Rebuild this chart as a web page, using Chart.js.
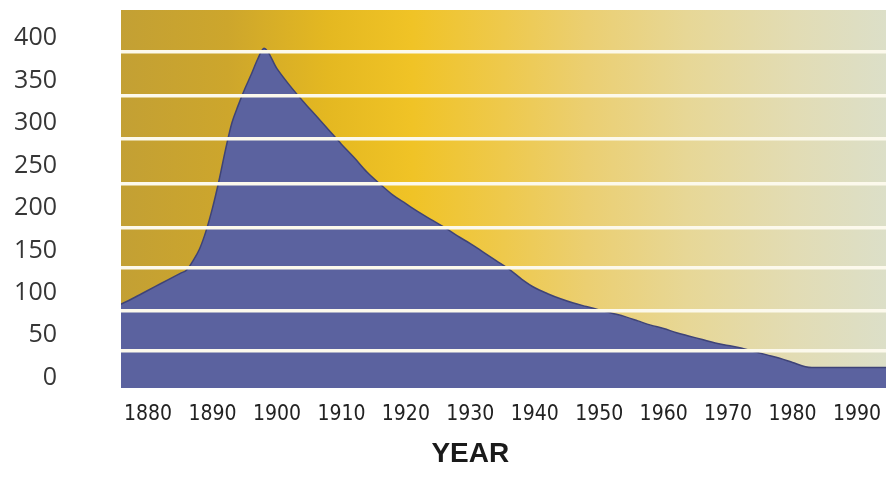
<!DOCTYPE html>
<html>
<head>
<meta charset="utf-8">
<script src="https://cdn.jsdelivr.net/npm/chart.js@4.4.1/dist/chart.umd.min.js"></script>
<style>
  html, body { margin: 0; padding: 0; background: #ffffff; }
  #wrap { width: 886px; height: 485px; }
</style>
</head>
<body>
<div id="wrap"><canvas id="chart" width="886" height="485"></canvas></div>
<script>
// Yearly counts
const YEARS = [
  1875, 1877, 1879, 1881, 1883, 1885, 1886, 1887, 1888, 1889,
  1890, 1891, 1892, 1893, 1894, 1895, 1896, 1897, 1898, 1900,
  1902, 1904, 1906, 1908, 1910, 1912, 1914, 1916, 1918, 1920,
  1922, 1924, 1926, 1928, 1930, 1932, 1934, 1936, 1938, 1940,
  1942, 1944, 1946, 1948, 1950, 1952, 1954, 1956, 1958, 1960,
  1962, 1964, 1966, 1968, 1970, 1972, 1974, 1976, 1978, 1980,
  1982, 1983, 1995
];
const COUNTS = [
  84, 91, 99, 107, 115, 123, 127, 138, 152, 173,
  200, 232, 268, 300, 321, 340, 357, 375, 388, 364,
  344, 326, 309, 292, 275, 259, 242, 228, 215, 205,
  195, 186, 177, 167, 158, 148, 138, 128, 116, 106,
  99, 93, 88, 84, 80, 76, 72, 67, 62, 58,
  53, 49, 45, 41, 38, 35, 31, 27, 23, 18,
  13, 12, 12
];

// Axis labels
const YEAR_TICKS = [1880, 1890, 1900, 1910, 1920, 1930, 1940, 1950, 1960, 1970, 1980, 1990];
const VALUE_TICKS = [0, 50, 100, 150, 200, 250, 300, 350, 400];
const X_TITLE = 'YEAR';

// White separator bands across the plot
const BAND_LINES = [32, 79, 130, 177, 229, 281, 332, 384];

const plotBackground = {
  id: 'plotBackground',
  beforeDraw(chart) {
    const { ctx, chartArea: a } = chart;
    if (!a) return;
    const g = ctx.createLinearGradient(a.left, 0, a.right, 0);
    g.addColorStop(0.00, '#c3a034');
    g.addColorStop(0.14, '#cda62c');
    g.addColorStop(0.27, '#e4b821');
    g.addColorStop(0.38, '#f0c326');
    g.addColorStop(0.50, '#eec94c');
    g.addColorStop(0.61, '#ebcf72');
    g.addColorStop(0.74, '#e7d796');
    g.addColorStop(0.88, '#e2dcb4');
    g.addColorStop(1.00, '#dcdfc8');
    ctx.save();
    ctx.fillStyle = g;
    ctx.fillRect(a.left, a.top, a.right - a.left, a.bottom - a.top);
    ctx.restore();
  }
};

// Axis caption, centred under the 1930 tick
const xCaption = {
  id: 'xCaption',
  afterDraw(chart) {
    const { ctx } = chart;
    const x = chart.scales.x.getPixelForValue(1930);
    ctx.save();
    ctx.font = "bold 28px 'Liberation Sans', Arial, sans-serif";
    ctx.fillStyle = '#1a1a1a';
    ctx.textAlign = 'center';
    ctx.textBaseline = 'middle';
    ctx.fillText(X_TITLE, x, 454);
    ctx.restore();
  }
};

// Fixed axis sizes; drop the edge padding Chart.js reserves for labels
function fixSize(prop, size) {
  return s => {
    s[prop] = size;
    s.paddingTop = 0;
    s.paddingBottom = 0;
    s.paddingLeft = 0;
    s.paddingRight = 0;
  };
}

new Chart(document.getElementById('chart'), {
  type: 'line',
  data: {
    datasets: [{
      data: YEARS.map((yr, i) => ({ x: yr, y: COUNTS[i] })),
      fill: 'start',
      backgroundColor: '#5b629f',
      borderColor: '#3e4377',
      borderWidth: 1.5,
      pointRadius: 0,
      cubicInterpolationMode: 'monotone'
    }]
  },
  options: {
    responsive: false,
    animation: false,
    devicePixelRatio: 1,
    layout: { padding: { top: 10, left: 0, right: 0, bottom: 0 } },
    plugins: { legend: { display: false }, tooltip: { enabled: false } },
    scales: {
      x: {
        type: 'linear',
        min: 1875.8,
        max: 1994.5,
        afterBuildTicks: s => { s.ticks = YEAR_TICKS.map(v => ({ value: v })); },
        afterFit: fixSize('height', 97),
        grid: { display: false, drawTicks: false },
        border: { display: false },
        ticks: {
          padding: 14,
          maxRotation: 0,
          autoSkip: false,
          color: '#222222',
          font: { family: "'DejaVu Sans Condensed', 'DejaVu Sans', sans-serif", size: 21 },
          callback: v => String(v)
        }
      },
      y: {
        type: 'linear',
        position: 'left',
        min: -12,
        max: 433,
        afterBuildTicks: s => { s.ticks = VALUE_TICKS.map(v => ({ value: v })); },
        afterFit: fixSize('width', 121),
        grid: { display: false, drawTicks: false },
        border: { display: false },
        ticks: {
          padding: 64,
          color: '#363636',
          font: { family: "'Open Sans', sans-serif", size: 25 },
          callback: v => String(v)
        }
      },
      bands: {
        type: 'linear',
        position: 'left',
        min: -12,
        max: 433,
        afterBuildTicks: s => { s.ticks = BAND_LINES.map(v => ({ value: v })); },
        afterFit: fixSize('width', 0),
        grid: { color: '#fcf9ec', lineWidth: 3.5, drawTicks: false, z: 1 },
        border: { display: false },
        ticks: { display: false }
      }
    }
  },
  plugins: [plotBackground, xCaption]
});
</script>
</body>
</html>
